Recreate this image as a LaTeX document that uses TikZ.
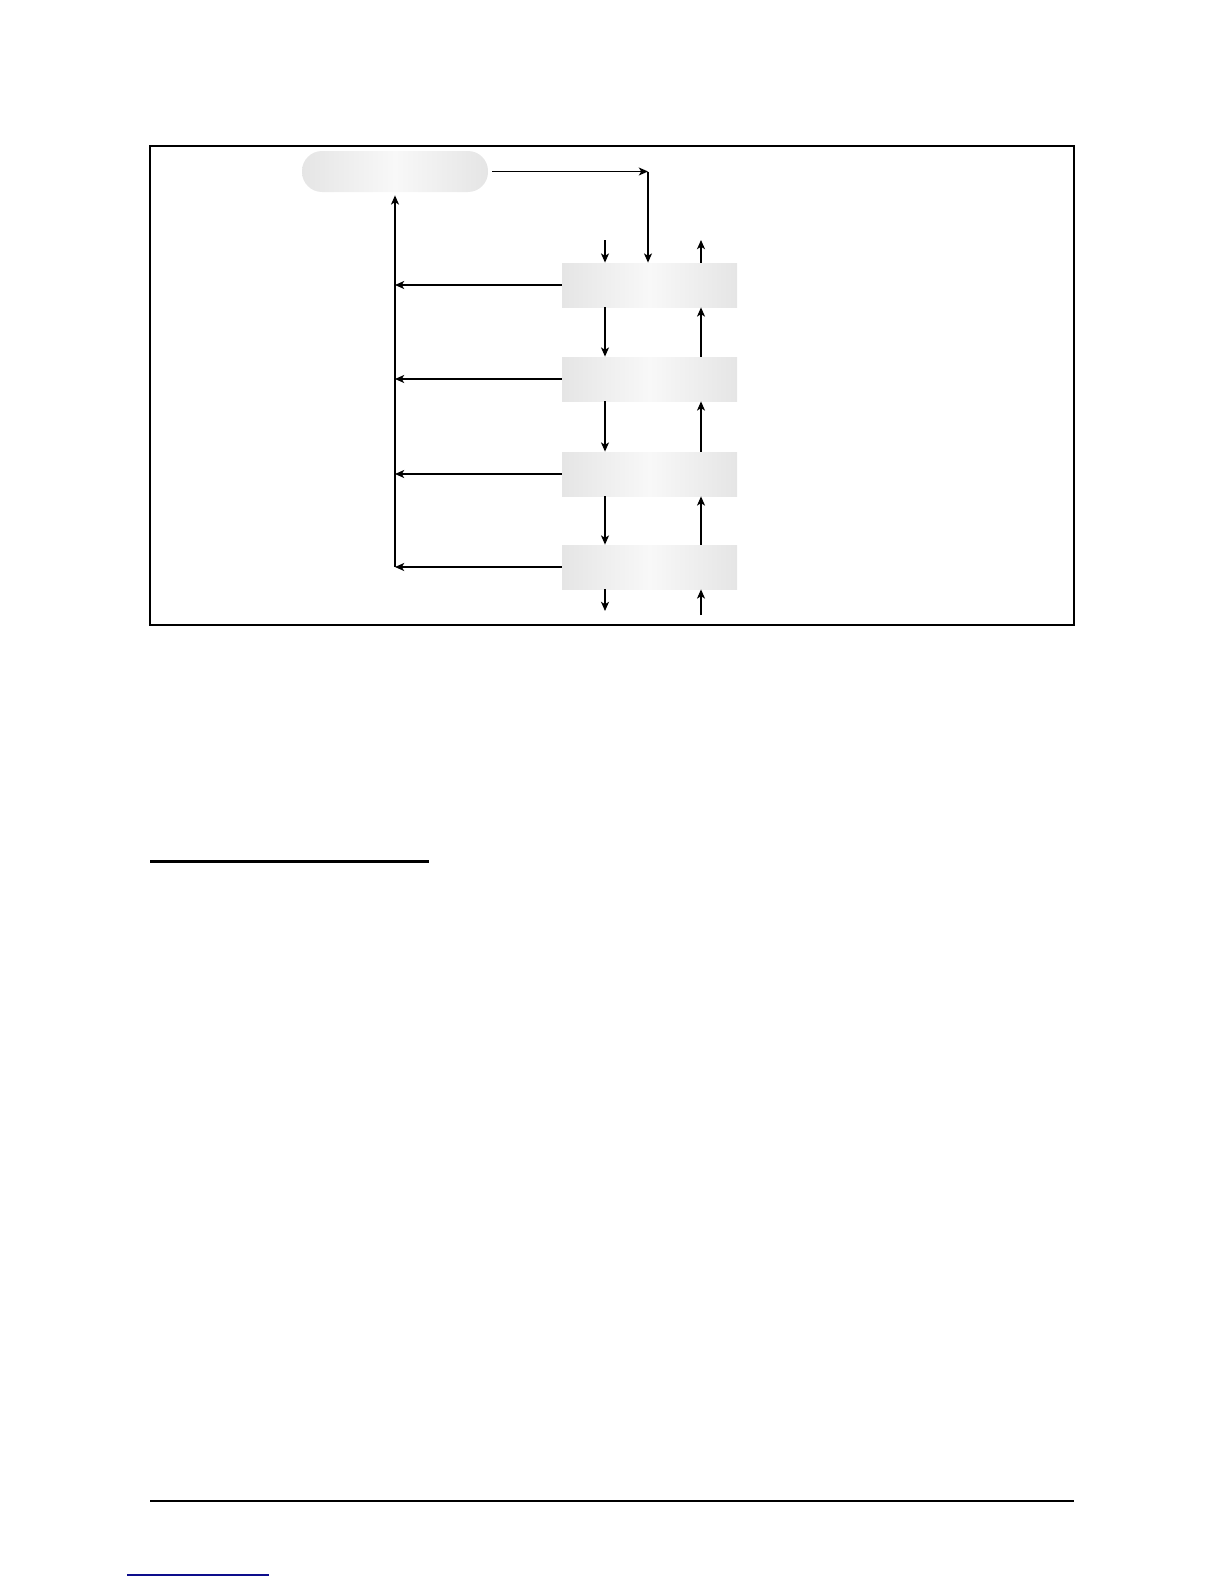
\documentclass[tikz,border=0pt]{standalone}
\usetikzlibrary{arrows.meta,calc}
\definecolor{edgegray}{HTML}{E5E5E5}
\definecolor{midgray}{HTML}{F8F8F8}
\definecolor{navyline}{rgb}{0.05,0.05,0.55}
\begin{document}
\begin{tikzpicture}[x=0.5pt,y=-0.5pt,
  ln/.style={line width=0.65pt,black},
  arr/.style={ln,-{Stealth[length=4.6pt,width=4pt,inset=1.2pt]}},
  box/.style={draw=none,minimum width=87.5pt,minimum height=22pt,inner sep=0pt,
    left color=edgegray,right color=edgegray,middle color=midgray},
  tbox/.style={box,minimum width=93pt,minimum height=20.5pt,rounded corners=10pt}
]
\useasboundingbox (0,0) rectangle (1224,1584);
% frame
\draw[ln] (150,146) rectangle (1074,625);
% nodes
\node[tbox] (top) at (395,171.5) {};
\node[box] (b1) at (649.5,285) {};
\node[box] (b2) at (649.5,379) {};
\node[box] (b3) at (649.5,474) {};
\node[box] (b4) at (649.5,567) {};
% coordinates
\coordinate (c1) at (648,171.5);
\coordinate (i1) at (605,240);
\coordinate (o1) at (701,240);
\coordinate (i2) at (605,611);
\coordinate (o2) at (701,615);
% top connectors
\draw[arr] ([xshift=2pt]top.east) -- (c1);
\draw[arr] (c1) -- (c1 |- b1.north);
\draw[arr] (i1) -- (i1 |- b1.north);
\draw[arr] (o1 |- b1.north) -- (o1);
% between boxes
\draw[arr] (b1.south -| i1) -- (b2.north -| i1);
\draw[arr] (b2.north -| o1) -- (b1.south -| o1);
\draw[arr] (b2.south -| i1) -- (b3.north -| i1);
\draw[arr] (b3.north -| o1) -- (b2.south -| o1);
\draw[arr] (b3.south -| i1) -- (b4.north -| i1);
\draw[arr] (b4.north -| o1) -- (b3.south -| o1);
% bottom
\draw[arr] (b4.south -| i2) -- (i2);
\draw[arr] (o2) -- (o2 |- b4.south);
% left
\draw[arr] (b1.west) -- (b1.west -| top.south);
\draw[arr] (b2.west) -- (b2.west -| top.south);
\draw[arr] (b3.west) -- (b3.west -| top.south);
\draw[arr] (b4.west) -- (b4.west -| top.south);
\draw[arr] (b4.west -| top.south) -- ([yshift=-1.5pt]top.south);
% rules
\draw[line width=1.5pt] (150,861) -- (429,861);
\draw[ln] (150,1501) -- (1074,1501);
\draw[line width=0.65pt,navyline] (127,1575) -- (269,1575);
\end{tikzpicture}
\end{document}
